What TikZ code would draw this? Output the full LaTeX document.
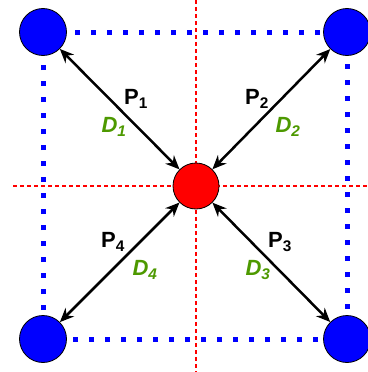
\documentclass[tikz,border=0pt]{standalone}
\usepackage{fontspec}
\setmainfont{Liberation Sans}
\usetikzlibrary{arrows.meta}
\definecolor{dgreen}{RGB}{77,153,0}
\begin{document}
\begin{tikzpicture}[x=1pt,y=-1pt,
  bluedot/.style={circle,draw=black,fill=blue,minimum size=47pt,inner sep=0pt,line width=0.8pt},
  reddot/.style={circle,draw=black,fill=red,minimum size=46pt,inner sep=0pt,line width=0.8pt},
  axis/.style={red,line width=1.1pt,dash pattern=on 4pt off 3pt},
  frame/.style={blue,line width=5pt,dash pattern=on 5pt off 11pt},
  link/.style={black,line width=2.5pt,{Stealth[length=14pt,width=12pt]}-{Stealth[length=14pt,width=12pt]}},
  plab/.style={font=\bfseries\fontsize{22}{24}\selectfont,text=black,inner sep=0pt},
  dlab/.style={font=\bfseries\itshape\fontsize{22}{24}\selectfont,text=dgreen,inner sep=0pt}]
\useasboundingbox (0,0) rectangle (367,372);
\coordinate (vt) at (196,0);
\coordinate (vb) at (196,372);
\coordinate (hl) at (13,186);
\coordinate (hr) at (367,186);
\draw[axis] (vt) -- (vb);
\draw[axis] (hl) -- (hr);
\coordinate (c1) at (43,32);
\coordinate (c2) at (347,32);
\coordinate (c3) at (347,339);
\coordinate (c4) at (43,339);
\draw[frame] (c1) -- (c2) -- (c3) -- (c4) -- cycle;
\node[bluedot] (b1) at (c1) {};
\node[bluedot] (b2) at (c2) {};
\node[bluedot] (b3) at (c3) {};
\node[bluedot] (b4) at (c4) {};
\node[reddot] (r) at (196,186) {};
\draw[link] (b1) -- (r);
\draw[link] (b2) -- (r);
\draw[link] (b3) -- (r);
\draw[link] (b4) -- (r);
\node[plab] (p1) at (136,99) {P\textsubscript{1}};
\node[dlab] (d1) at (114,127) {D\textsubscript{1}};
\node[plab] (p2) at (257,99) {P\textsubscript{2}};
\node[dlab] (d2) at (288,127) {D\textsubscript{2}};
\node[plab] (p3) at (280,242) {P\textsubscript{3}};
\node[dlab] (d3) at (258,270) {D\textsubscript{3}};
\node[plab] (p4) at (113,242) {P\textsubscript{4}};
\node[dlab] (d4) at (145,270) {D\textsubscript{4}};
\end{tikzpicture}
\end{document}
